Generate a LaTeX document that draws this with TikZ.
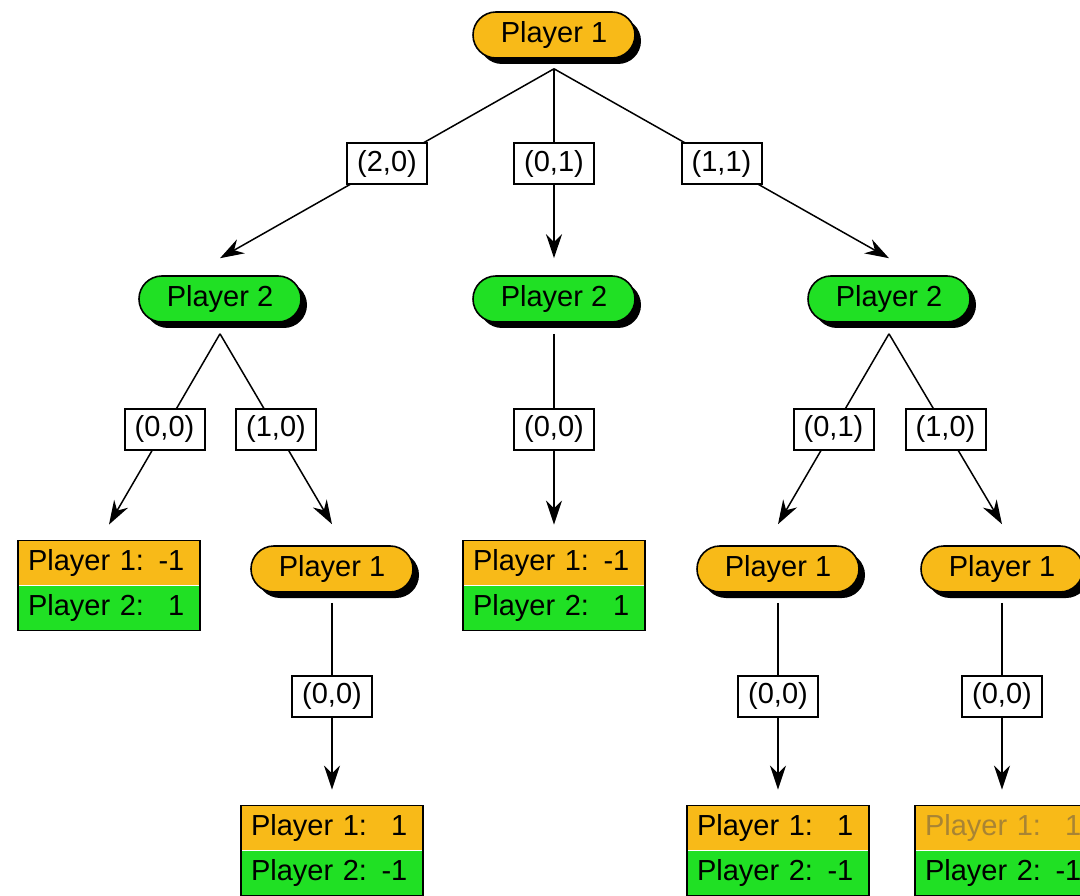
\documentclass[tikz,border=0pt]{standalone}
\usepackage{fontspec}
\setmainfont{Liberation Sans}
\usetikzlibrary{arrows.meta, positioning, shapes.misc, shadows}

\definecolor{pone}{RGB}{248,186,24}
\definecolor{ptwo}{RGB}{32,224,36}
\definecolor{faded}{RGB}{168,132,52}

\begin{document}
\begin{tikzpicture}[x=1pt, y=-1pt,
    font=\fontsize{29}{34}\selectfont,
    turn/.style={rounded rectangle, draw, line width=1.6pt, minimum width=162pt,
        minimum height=46pt, inner sep=0pt,
        drop shadow={shadow xshift=6pt, shadow yshift=-6pt, fill=black, opacity=1}},
    one/.style={turn, fill=pone},
    two/.style={turn, fill=ptwo},
    move/.style={draw, fill=white, line width=2pt, minimum width=80pt,
        minimum height=41pt, inner sep=0pt},
    half/.style={rectangle, minimum height=44.5pt, text width=162pt,
        inner xsep=10pt, inner ysep=0pt, align=left},
    edge/.style={line width=1.5pt, -{Stealth[length=24pt, width=16pt]}}]
    \useasboundingbox (0,0) rectangle (1080,896);
    % players
    \node[one] (p1) at (554,35) {Player 1};
    \node[two] (p2a) at (220,299) {Player 2};
    \node[two] (p2b) at (554,299) {Player 2};
    \node[two] (p2c) at (889,299) {Player 2};
    \node[one] (p3a) at (332,569) {Player 1};
    \node[one] (p3b) at (778,569) {Player 1};
    \node[one] (p3c) at (1002,569) {Player 1};
    % payoffs
    \node[half, fill=pone] (w1) at (109,563) {Player 1: -1};
    \node[half, fill=ptwo, below=0pt of w1] (w1b) {Player 2: \phantom{-}1};
    \node[half, fill=pone] (w2) at (554,563) {Player 1: -1};
    \node[half, fill=ptwo, below=0pt of w2] (w2b) {Player 2: \phantom{-}1};
    \node[half, fill=pone] (w3) at (332,828) {Player 1: \phantom{-}1};
    \node[half, fill=ptwo, below=0pt of w3] (w3b) {Player 2: -1};
    \node[half, fill=pone] (w4) at (778,828) {Player 1: \phantom{-}1};
    \node[half, fill=ptwo, below=0pt of w4] (w4b) {Player 2: -1};
    \node[half, fill=pone, text=faded] (w5) at (1006,828) {Player 1: \phantom{-}1};
    \node[half, fill=ptwo, below=0pt of w5] (w5b) {Player 2: -1};
    \foreach \w in {w1,w2,w3,w4,w5}
        \draw[line width=1.6pt] (\w.north west) rectangle (\w b.south east);
    % moves
    \draw[edge] ([yshift=-10pt]p1.south) -- node[move] {(2,0)} ([yshift=17pt]p2a.north);
    \draw[edge] ([yshift=-10pt]p1.south) -- node[move] {(0,1)} ([yshift=17pt]p2b.north);
    \draw[edge] ([yshift=-10pt]p1.south) -- node[move] {(1,1)} ([yshift=17pt]p2c.north);
    \draw[edge] ([yshift=-11pt]p2a.south) -- node[move] {(0,0)} ([yshift=16pt]w1.north);
    \draw[edge] ([yshift=-11pt]p2a.south) -- node[move] {(1,0)} ([yshift=21pt]p3a.north);
    \draw[edge] ([yshift=-11pt]p2b.south) -- node[move] {(0,0)} ([yshift=16pt]w2.north);
    \draw[edge] ([yshift=-11pt]p2c.south) -- node[move] {(0,1)} ([yshift=21pt]p3b.north);
    \draw[edge] ([yshift=-11pt]p2c.south) -- node[move] {(1,0)} ([yshift=21pt]p3c.north);
    \draw[edge] ([yshift=-10pt]p3a.south) -- node[move] {(0,0)} ([yshift=16pt]w3.north);
    \draw[edge] ([yshift=-10pt]p3b.south) -- node[move] {(0,0)} ([yshift=16pt]w4.north);
    \draw[edge] ([yshift=-10pt]p3c.south) -- node[move] {(0,0)} ([xshift=-4pt, yshift=16pt]w5.north);
\end{tikzpicture}
\end{document}
